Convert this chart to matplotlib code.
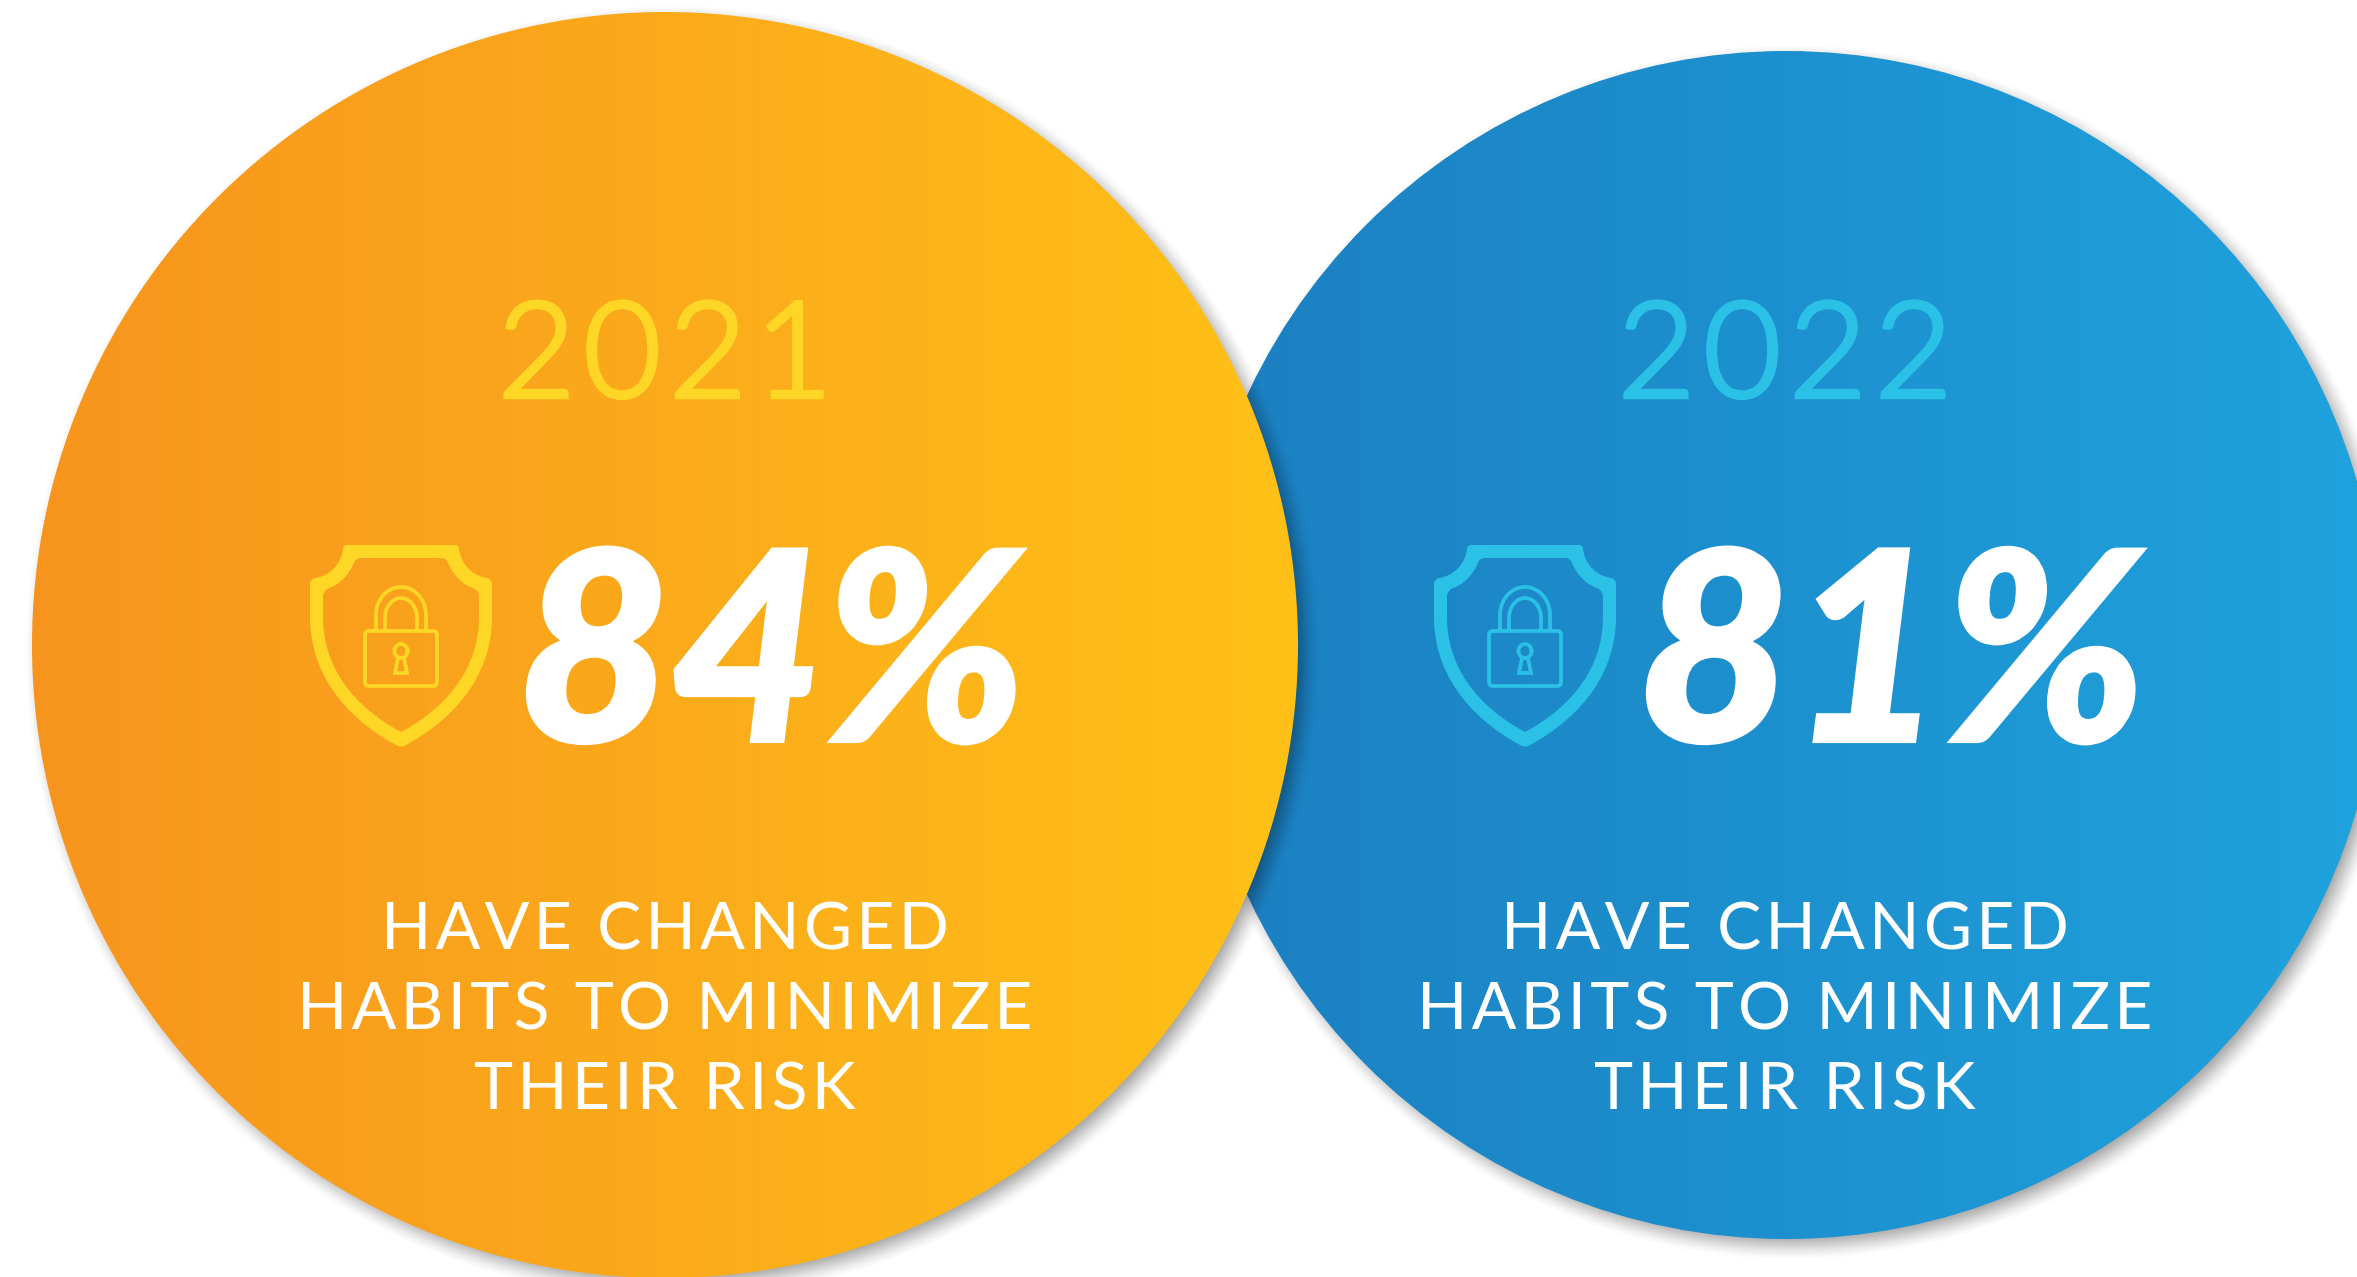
import numpy as np
import matplotlib
matplotlib.use("Agg")
import matplotlib.pyplot as plt
import matplotlib.patheffects as pe
from matplotlib.patches import Circle, PathPatch, FancyBboxPatch
from matplotlib.path import Path
from matplotlib.colors import to_rgb

W, H = 2357, 1277
years = ["2021", "2022"]
percents = [84, 81]
caption = ["HAVE CHANGED", "HABITS TO MINIMIZE", "THEIR RISK"]
circle_x = [665, 1786]
circle_y = [645, 645]
circle_r = [633, 594]
grad_from = ["#F7941E", "#1B7FC1"]
grad_to = ["#FFC117", "#1FA3DD"]
accent = ["#FDD626", "#2BC0E6"]
content_x = [665, 1785]
shield_x = [401, 1525]

plt.rcParams["font.family"] = ["Lato", "DejaVu Sans"]
fig = plt.figure(figsize=(W / 100, H / 100), dpi=100, facecolor="white")
ax = fig.add_axes([0, 0, 1, 1])
ax.axis("off")

yy, xx = np.mgrid[0:H, 0:W]


def spaced(s):
    return "\u200a".join(s)


def shadow(cx, cy, r, z):
    d = np.hypot(xx + .5 - cx - 7, yy + .5 - cy - 7)
    t = np.clip((r + 16 - d) / 36, 0, 1)
    a = .42 * t * t * (3 - 2 * t)
    rgba = np.zeros((H, W, 4))
    rgba[..., 3] = a
    ax.imshow(rgba, extent=(0, W, H, 0), zorder=z, interpolation="nearest")


def disc(cx, cy, r, c0, c1, z):
    c0, c1 = np.array(to_rgb(c0)), np.array(to_rgb(c1))
    t = np.linspace(0, 1, 256)[None, :, None]
    im = ax.imshow(c0 + (c1 - c0) * t, extent=(cx - r, cx + r, cy + r, cy - r),
                   zorder=z, aspect="auto", interpolation="bilinear")
    im.set_clip_path(Circle((cx, cy), r, transform=ax.transData))


def shield(cx, color, z):
    M, L, C, Z = Path.MOVETO, Path.LINETO, Path.CURVE4, Path.CLOSEPOLY
    outer = [(-54, 545), (54, 545),
             (57, 545), (58, 547), (58, 549),
             (60, 565), (72, 576), (86, 578),
             (89, 579), (91, 581), (91, 584),
             (91, 617),
             (91, 670), (60, 715), (5, 745),
             (2, 747), (-2, 747), (-5, 745),
             (-60, 715), (-91, 670), (-91, 617),
             (-91, 584),
             (-91, 581), (-89, 579), (-86, 578),
             (-72, 576), (-60, 565), (-58, 549),
             (-58, 547), (-57, 545), (-54, 545)]
    ocodes = [M, L] + [C] * 9 + [L] + [C] * 9 + [L] + [C] * 9
    inner = [(-40, 558), (40, 558),
             (44, 558), (46, 560), (47, 563),
             (52, 575), (62, 585), (72, 588),
             (76, 590), (78, 593), (78, 597),
             (78, 617),
             (78, 665), (50, 705), (0, 732),
             (-50, 705), (-78, 665), (-78, 617),
             (-78, 597),
             (-78, 593), (-76, 590), (-72, 588),
             (-62, 585), (-52, 575), (-47, 563),
             (-46, 560), (-44, 558), (-40, 558)]
    icodes = [M, L] + [C] * 9 + [L] + [C] * 6 + [L] + [C] * 9
    inner = [(-x, y) for x, y in inner]
    pts = np.array(outer + [outer[0]] + inner + [inner[0]], float)
    codes = ocodes + [Z] + icodes + [Z]
    pts[:, 0] += cx
    ax.add_patch(PathPatch(Path(pts, codes), fc=color, ec="none", zorder=z))
    lw = 2.7
    ax.add_patch(FancyBboxPatch((cx - 36, 631), 72, 55, boxstyle="round,pad=0,rounding_size=4",
                                fc="none", ec=color, lw=lw, zorder=z))
    for half, top, ry in ((25, 587, 28), (16, 598, 20)):
        th = np.linspace(np.pi, 0, 50)
        ys = top + ry - ry * np.sin(th)
        xs = cx + half * np.cos(th)
        ax.plot(np.r_[xs[0], xs, xs[-1]], np.r_[630, ys, 630], color=color, lw=lw,
                solid_capstyle="butt", zorder=z)
    th = np.linspace(0, 2 * np.pi, 60)
    ax.plot(cx + 6.5 * np.cos(th), 651 + 7 * np.sin(th), color=color, lw=lw, zorder=z)
    ax.add_patch(PathPatch(Path([(cx - 3, 658), (cx - 6, 673), (cx + 6, 673), (cx + 3, 658)]),
                           fc="none", ec=color, lw=lw, zorder=z))


for i in (1, 0):
    z = 1 if i == 1 else 3
    shadow(circle_x[i], circle_y[i], circle_r[i], z)
    disc(circle_x[i], circle_y[i], circle_r[i], grad_from[i], grad_to[i], z + 1)

for i in (0, 1):
    cx = content_x[i]
    ax.text(cx, 397, spaced(years[i]), color=accent[i], fontsize=96, fontweight=300,
            ha="center", va="baseline", zorder=6,
            path_effects=[pe.withStroke(linewidth=3.2, foreground=accent[i], joinstyle="miter")])
    ax.text(cx + 107, 741, f"{percents[i]}%", color="white", fontsize=190, fontweight="black",
            fontstyle="italic", ha="center", va="baseline", zorder=6,
            path_effects=[pe.withStroke(linewidth=3, foreground="white", joinstyle="miter")])
    for line, y in zip(caption, (950, 1030, 1109)):
        ax.text(cx, y, spaced(line), color="white", fontsize=47.7, ha="center", va="baseline", zorder=6)
    shield(shield_x[i], accent[i], 6)

ax.set_xlim(0, W)
ax.set_ylim(H, 0)
fig.savefig("out.png", dpi=100, facecolor="white")
